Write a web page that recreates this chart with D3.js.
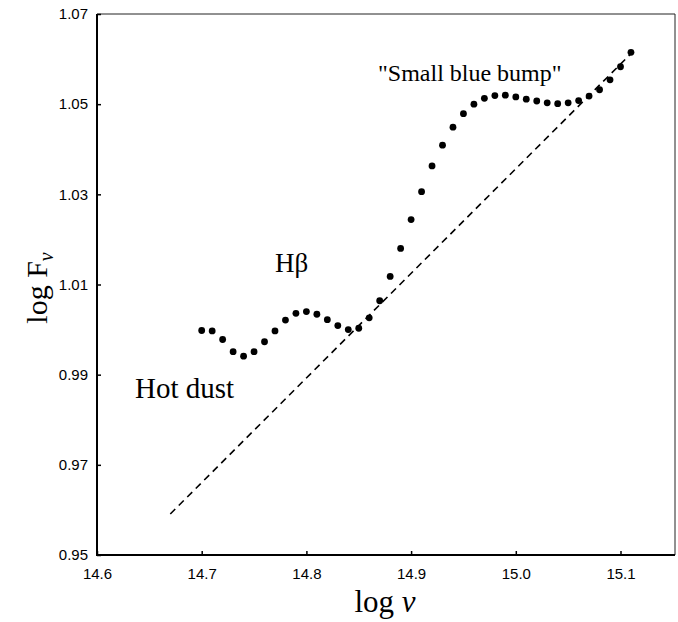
<!DOCTYPE html>
<html>
<head>
<meta charset="utf-8">
<script src="https://cdn.jsdelivr.net/npm/d3@7"></script>
<style>
  body { margin: 0; background: #fff; }
  svg text { fill: #000; }
</style>
</head>
<body>
<svg id="chart" width="678" height="622"></svg>
<script>
// log nu values (step 0.01) and measured log F_nu
var logNu = [14.70, 14.71, 14.72, 14.73, 14.74, 14.75, 14.76, 14.77, 14.78, 14.79,
             14.80, 14.81, 14.82, 14.83, 14.84, 14.85, 14.86, 14.87, 14.88, 14.89,
             14.90, 14.91, 14.92, 14.93, 14.94, 14.95, 14.96, 14.97, 14.98, 14.99,
             15.00, 15.01, 15.02, 15.03, 15.04, 15.05, 15.06, 15.07, 15.08, 15.09,
             15.10, 15.11];
var logF = [0.9998, 0.9997, 0.9978, 0.9951, 0.9941, 0.9951, 0.9973, 0.9997, 1.0021, 1.0036,
            1.0040, 1.0034, 1.0022, 1.0009, 1.0000, 1.0003, 1.0026, 1.0064, 1.0118, 1.0180,
            1.0244, 1.0306, 1.0363, 1.0409, 1.0449, 1.0479, 1.0500, 1.0513, 1.0519, 1.0520,
            1.0516, 1.0511, 1.0507, 1.0503, 1.0501, 1.0503, 1.0508, 1.0518, 1.0532, 1.0554,
            1.0583, 1.0615];

// dashed power-law continuum
var lineX = [14.67, 15.11];
var lineY = [0.9591, 1.0612];

var xTicks = [14.6, 14.7, 14.8, 14.9, 15.0, 15.1];
var yTicks = [0.95, 0.97, 0.99, 1.01, 1.03, 1.05, 1.07];

var svg = d3.select('#chart');

var plotL = 97, plotT = 14, plotR = 675, plotB = 555;

var x = d3.scaleLinear().domain([14.6, 15.1]).range([plotL, plotL + 523.5]);
var y = d3.scaleLinear().domain([0.95, 1.07]).range([plotB, plotT]);

// plot area frame (top / right)
svg.append('path')
    .attr('d', 'M' + plotL + ',' + plotT + 'H' + plotR + 'V' + plotB)
    .style('fill', 'none')
    .style('stroke', '#222')
    .style('stroke-width', 1);

// axes
var xAxis = d3.axisBottom(x)
    .tickValues(xTicks)
    .tickSize(-4)
    .tickPadding(13)
    .tickFormat(d3.format('.1f'));
var yAxis = d3.axisLeft(y)
    .tickValues(yTicks)
    .tickSize(-4)
    .tickPadding(9)
    .tickFormat(d3.format('.2f'));

var gx = svg.append('g')
    .attr('transform', 'translate(0,' + plotB + ')')
    .call(xAxis);
var gy = svg.append('g')
    .attr('transform', 'translate(' + plotL + ',0)')
    .call(yAxis);

[gx, gy].forEach(function (g) {
    g.select('.domain').remove();
    g.selectAll('line').style('stroke', '#000').style('stroke-width', 1.5);
    g.selectAll('text')
        .attr('font-family', 'Liberation Sans, Arial, sans-serif')
        .attr('font-size', 15)
        .style('fill', '#000');
});

// left and bottom axis lines
svg.append('path')
    .attr('d', 'M' + plotL + ',' + plotT + 'V' + plotB + 'H' + plotR)
    .style('fill', 'none')
    .style('stroke', '#000')
    .style('stroke-width', 2);

// dashed continuum line
svg.append('line')
    .attr('x1', x(lineX[0])).attr('y1', y(lineY[0]))
    .attr('x2', x(lineX[1])).attr('y2', y(lineY[1]))
    .style('stroke', '#000')
    .style('stroke-width', 1.6)
    .style('stroke-dasharray', '7,5');

// data points
svg.selectAll('circle.pt')
    .data(logNu)
    .enter()
    .append('circle')
    .attr('class', 'pt')
    .attr('cx', function (d) { return x(d); })
    .attr('cy', function (d, i) { return y(logF[i]); })
    .attr('r', 3.4)
    .style('fill', '#000');

// annotations
var serif = 'Liberation Serif, Times New Roman, serif';
svg.append('text')
    .attr('x', 378).attr('y', 81)
    .attr('font-family', serif).attr('font-size', 24)
    .text('"Small blue bump"');
svg.append('text')
    .attr('x', 275).attr('y', 272)
    .attr('font-family', serif).attr('font-size', 27)
    .text('Hβ');
svg.append('text')
    .attr('x', 135).attr('y', 398)
    .attr('font-family', serif).attr('font-size', 29)
    .text('Hot dust');

// axis titles
var xt = svg.append('text')
    .attr('x', 385).attr('y', 612)
    .attr('text-anchor', 'middle')
    .attr('font-family', serif).attr('font-size', 31);
xt.append('tspan').text('log ');
xt.append('tspan').attr('font-style', 'italic').text('ν');

var yt = svg.append('text')
    .attr('transform', 'translate(47,288) rotate(-90)')
    .attr('text-anchor', 'middle')
    .attr('font-family', serif).attr('font-size', 30);
yt.append('tspan').text('log F');
yt.append('tspan').attr('font-style', 'italic').attr('font-size', 20).attr('dy', 6).text('ν');
</script>
</body>
</html>
